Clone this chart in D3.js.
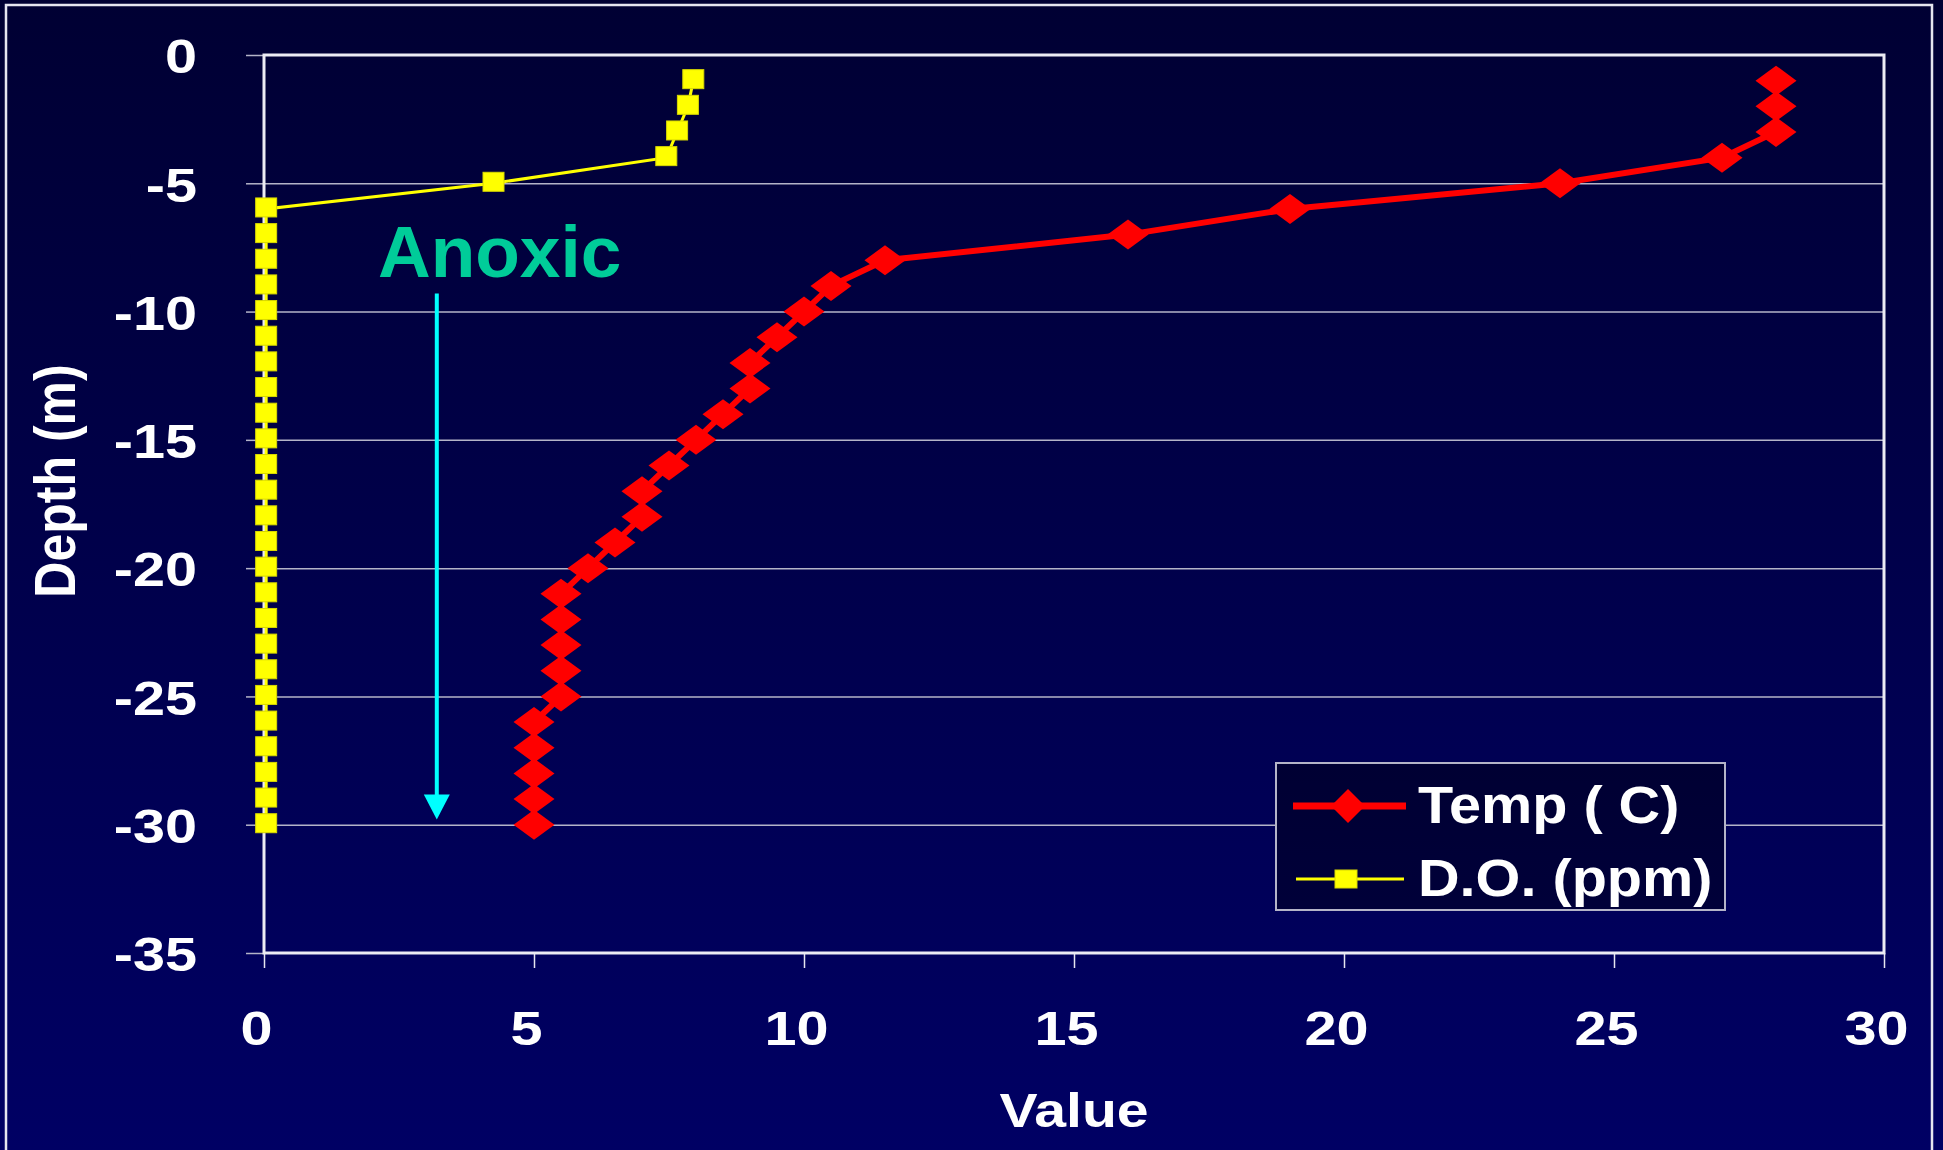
<!DOCTYPE html>
<html>
<head>
<meta charset="utf-8">
<script src="https://cdn.jsdelivr.net/npm/d3@7"></script>
<style>
html,body{margin:0;padding:0;background:#000033;}
svg{display:block;}
</style>
</head>
<body>
<div id="chart"></div>
<script>
(function(){

const width = 1943;
const height = 1150;
const margin = {top:55,right:59,bottom:197,left:264};

// data
const depth = [-1,-2,-3,-4,-5,-6,-7,-8,-9,-10,-11,-12,-13,-14,-15,-16,-17,-18,-19,-20,-21,-22,-23,-24,-25,-26,-27,-28,-29,-30];
const temp = [28,28,28,27,24,19,16,11.5,10.5,10,9.5,9,9,8.5,8,7.5,7,7,6.5,6,5.5,5.5,5.5,5.5,5.5,5,5,5,5,5];
const dissolvedO2 = [7.95,7.85,7.65,7.45,4.25,0.04,0.04,0.04,0.04,0.04,0.04,0.04,0.04,0.04,0.04,0.04,0.04,0.04,0.04,0.04,0.04,0.04,0.04,0.04,0.04,0.04,0.04,0.04,0.04,0.04];
const seriesNames = ["Temp ( C)","D.O. (ppm)"];
const xTicks = [0,5,10,15,20,25,30];
const yTicks = [0,-5,-10,-15,-20,-25,-30,-35];
const anoxicLabel = {x:2.11, y:-8.65, text:"Anoxic"};
const anoxicArrow = {x:3.2, y1:-9.3, y2:-29.8};

const font = "'Liberation Sans', Arial, sans-serif";
const stretch = 1.2;

const svg = d3.select("#chart")
.append("svg")
.attr("width",width)
.attr("height",height);

const defs = svg.append("defs");
const grad = defs.append("linearGradient")
.attr("id","bg")
.attr("gradientUnits","userSpaceOnUse")
.attr("x1",0).attr("y1",0).attr("x2",0).attr("y2",height);
grad.append("stop").attr("offset","0%").attr("stop-color","#000033");
grad.append("stop").attr("offset","100%").attr("stop-color","#000064");

svg.append("rect")
.attr("width",width).attr("height",height)
.attr("fill","url(#bg)");

// slide frame
svg.append("rect")
.attr("x",6).attr("y",5)
.attr("width",1926).attr("height",1200)
.attr("fill","none")
.attr("stroke","#e6e6f0")
.attr("stroke-width",2.5);

const x = d3.scaleLinear()
.domain([0,30])
.range([margin.left,width-margin.right]);

const y = d3.scaleLinear()
.domain([-35,0])
.range([height-margin.bottom,margin.top]);

// gridlines
svg.append("g")
.attr("transform",`translate(${margin.left},0)`)
.call(d3.axisLeft(y).tickValues(yTicks.slice(1,-1)).tickSize(-(x(30)-x(0))).tickFormat(""))
.call(g=>g.select(".domain").remove())
.selectAll("line")
.attr("stroke","#b4b4c8")
.attr("stroke-width",1.5);

// y axis
const yAxis = svg.append("g")
.attr("transform",`translate(${margin.left},0)`)
.call(d3.axisLeft(y).tickValues(yTicks).tickSize(18).tickFormat(d=>String(d)));
yAxis.select(".domain").remove();
yAxis.selectAll("line").attr("stroke","#b4b4c8").attr("stroke-width",1.5);
yAxis.selectAll("text")
.attr("x",-67/stretch)
.attr("dy","0.37em")
.attr("transform",`scale(${stretch},1)`)
.attr("fill","#ffffff")
.style("font-family",font)
.style("font-size","48px")
.style("font-weight","bold");

// x axis
const xAxis = svg.append("g")
.attr("transform",`translate(0,${y(-35)})`)
.call(d3.axisBottom(x).tickValues(xTicks).tickSize(15).tickFormat(d=>String(d)));
xAxis.select(".domain").remove();
xAxis.selectAll("line").attr("stroke","#e6e6f0").attr("stroke-width",1.5);
xAxis.selectAll("text")
.attr("x",-8/stretch)
.attr("y",92)
.attr("dy",0)
.attr("transform",`scale(${stretch},1)`)
.attr("fill","#ffffff")
.style("font-family",font)
.style("font-size","48px")
.style("font-weight","bold");

// plot frame
svg.append("rect")
.attr("x",x(0)).attr("y",y(0))
.attr("width",x(30)-x(0)).attr("height",y(-35)-y(0))
.attr("fill","none")
.attr("stroke","#ececf4")
.attr("stroke-width",3);

// axis titles
svg.append("text")
.attr("transform",`translate(${(x(0)+x(30))/2},1127) scale(1.19,1)`)
.attr("text-anchor","middle")
.attr("fill","#ffffff")
.style("font-family",font)
.style("font-size","48px")
.style("font-weight","bold")
.text("Value");

svg.append("text")
.attr("transform","translate(75,481) rotate(-90) scale(1,1.15)")
.attr("text-anchor","middle")
.attr("fill","#ffffff")
.style("font-family",font)
.style("font-size","50px")
.style("font-weight","bold")
.text("Depth (m)");

const tempData = depth.map((d,i)=>({depth:d,value:temp[i]}));
const doData = depth.map((d,i)=>({depth:d,value:dissolvedO2[i]}));

const line = d3.line()
.x(d=>x(d.value))
.y(d=>y(d.depth));

const diamond = "M0,-15L20.5,0L0,15L-20.5,0Z";

// D.O. series
svg.append("path")
.datum(doData)
.attr("d",line)
.attr("fill","none")
.attr("stroke","#ffff00")
.attr("stroke-width",3);

svg.selectAll("rect.do")
.data(doData)
.enter()
.append("rect")
.attr("class","do")
.attr("x",d=>x(d.value)-10.5)
.attr("y",d=>y(d.depth)-11)
.attr("width",21)
.attr("height",19)
.attr("fill","#ffff00")
.attr("stroke","#d8d800")
.attr("stroke-width",1);

// Temp series
svg.append("path")
.datum(tempData)
.attr("d",line)
.attr("fill","none")
.attr("stroke","#ff0000")
.attr("stroke-width",6);

svg.selectAll("path.temp")
.data(tempData)
.enter()
.append("path")
.attr("class","temp")
.attr("d",diamond)
.attr("transform",d=>`translate(${x(d.value)},${y(d.depth)})`)
.attr("fill","#ff0000");

// annotation
svg.append("text")
.attr("x",x(anoxicLabel.x))
.attr("y",y(anoxicLabel.y))
.attr("fill","#00cc99")
.style("font-family",font)
.style("font-size","73px")
.style("font-weight","bold")
.text(anoxicLabel.text);

svg.append("line")
.attr("x1",x(anoxicArrow.x)).attr("x2",x(anoxicArrow.x))
.attr("y1",y(anoxicArrow.y1)).attr("y2",y(anoxicArrow.y2)-22)
.attr("stroke","#00ffff")
.attr("stroke-width",4);

svg.append("path")
.attr("d",`M${x(anoxicArrow.x)-13},${y(anoxicArrow.y2)-25}L${x(anoxicArrow.x)+13},${y(anoxicArrow.y2)-25}L${x(anoxicArrow.x)},${y(anoxicArrow.y2)}Z`)
.attr("fill","#00ffff");

// legend
const legend = svg.append("g").attr("transform","translate(1276,763)");
legend.append("rect")
.attr("width",449).attr("height",147)
.attr("fill","url(#bg)")
.attr("stroke","#b4b4c8")
.attr("stroke-width",2);

const legendRows = legend.selectAll("g.row")
.data(seriesNames)
.enter()
.append("g")
.attr("class","row")
.attr("transform",(d,i)=>`translate(0,${i===0?43:116})`);

legendRows.append("line")
.attr("x1",(d,i)=>i===0?17:20)
.attr("x2",(d,i)=>i===0?130:128)
.attr("stroke",(d,i)=>i===0?"#ff0000":"#ffff00")
.attr("stroke-width",(d,i)=>i===0?7:3);

legendRows.filter((d,i)=>i===0).append("path")
.attr("d","M0,-17L17,0L0,17L-17,0Z")
.attr("transform","translate(72,0)")
.attr("fill","#ff0000");

legendRows.filter((d,i)=>i===1).append("rect")
.attr("x",59).attr("y",-9)
.attr("width",22).attr("height",18)
.attr("fill","#ffff00")
.attr("stroke","#d8d800");

legendRows.append("text")
.attr("transform",`translate(142,17) scale(1.13,1)`)
.attr("fill","#ffffff")
.style("font-family",font)
.style("font-size","51px")
.style("font-weight","bold")
.text(d=>d);

})();
</script>
</body>
</html>
